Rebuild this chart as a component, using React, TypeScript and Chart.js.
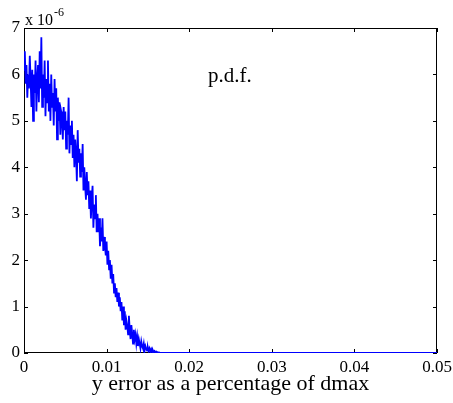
import React, { useEffect, useRef } from "react";
import { Chart, registerables } from "chart.js";

Chart.register(...registerables);

// x positions (y error as fraction of dmax), step 0.0001 from 0 to 0.0170
const xStep = 0.0001;
// p.d.f. values in units of 1e-6
const pdfValues: number[] = [
  6.1, 6.5, 5.8, 6.2, 5.5, 6.0, 5.7, 6.4, 5.9, 5.3,
  6.1, 5.0, 6.0, 5.6, 6.3, 5.2, 5.9, 6.2, 5.4, 6.5,
  5.7, 6.8, 5.3, 6.0, 5.5, 6.3, 5.1, 5.9, 5.4, 6.3,
  5.2, 5.8, 5.0, 6.0, 5.3, 5.6, 4.9, 5.9, 5.2, 5.7,
  4.6, 5.5, 5.0, 5.4, 4.7, 5.2, 5.1, 4.6, 5.3, 4.8,
  5.2, 4.4, 5.0, 4.7, 5.5, 4.3, 4.9, 4.5, 5.0, 4.2,
  4.7, 4.0, 4.6, 4.3, 3.7, 4.8, 4.1, 4.4, 3.8, 4.3,
  3.9, 4.5, 3.5, 4.0, 3.6, 3.3, 3.9, 3.4, 3.7, 3.1,
  3.5, 2.9, 3.3, 3.6, 2.7, 3.2, 2.9, 3.4, 2.6, 3.0,
  2.6, 2.9, 2.3, 2.7, 2.4, 2.9, 2.2, 2.5, 2.3, 2.1,
  2.4, 1.9, 2.2, 1.8, 2.0, 1.6, 1.9, 1.5, 1.7, 1.3,
  1.5, 1.2, 1.4, 1.1, 1.3, 1.0, 1.2, 0.9, 1.1, 0.7,
  1.0, 0.6, 0.9, 0.5, 0.7, 0.6, 0.4, 0.8, 0.5, 0.3,
  0.6, 0.4, 0.2, 0.5, 0.3, 0.4, 0.2, 0.35, 0.15, 0.3,
  0.2, 0.1, 0.25, 0.15, 0.1, 0.2, 0.05, 0.15, 0.1, 0.05,
  0.12, 0.05, 0.1, 0.03, 0.08, 0.02, 0.06, 0.02, 0.04, 0.01,
  0.03, 0.01, 0.02, 0, 0.01, 0, 0, 0, 0, 0,
  0,
];
const tailX = [0.05];
const tailY = [0];

const xTicks = [0, 0.01, 0.02, 0.03, 0.04, 0.05];
const yTicks = [0, 1, 2, 3, 4, 5, 6, 7];
const xLabel = "y error as a percentage of dmax";
const plotText = "p.d.f.";
const yExponent = "-6";

const FONT = "'Liberation Serif', 'Times New Roman', serif";

export default function App() {
  const ref = useRef<HTMLCanvasElement | null>(null);
  useEffect(() => {
    if (!ref.current) return;
    const pts = pdfValues.map((v, i) => ({ x: +(i * xStep).toFixed(4), y: v }));
    tailX.forEach((x, i) => pts.push({ x, y: tailY[i] }));

    const frame = {
      id: "frame",
      beforeDatasetsDraw(chart: any) {
        const { ctx, chartArea: a, scales } = chart;
        ctx.save();
        ctx.strokeStyle = "#000";
        ctx.lineWidth = 1;
        ctx.strokeRect(a.left + 0.5, a.top + 0.5, a.right - a.left - 1, a.bottom - a.top - 1);
        const tl = 4;
        ctx.beginPath();
        xTicks.forEach((t) => {
          const px = Math.round(scales.x.getPixelForValue(t)) + 0.5;
          ctx.moveTo(px, a.bottom);
          ctx.lineTo(px, a.bottom - tl);
          ctx.moveTo(px, a.top);
          ctx.lineTo(px, a.top + tl);
        });
        yTicks.forEach((t) => {
          const py = Math.round(scales.y.getPixelForValue(t)) + 0.5;
          ctx.moveTo(a.left, py);
          ctx.lineTo(a.left + tl, py);
          ctx.moveTo(a.right, py);
          ctx.lineTo(a.right - tl, py);
        });
        ctx.stroke();
        ctx.restore();
      },
      afterDraw(chart: any) {
        const { ctx, chartArea: a } = chart;
        ctx.save();
        ctx.fillStyle = "#000";
        ctx.textBaseline = "alphabetic";
        ctx.textAlign = "center";
        ctx.font = `22px ${FONT}`;
        ctx.fillText(xLabel, (a.left + a.right) / 2, 390);
        ctx.textAlign = "left";
        ctx.font = `21px ${FONT}`;
        ctx.fillText(plotText, 208, 82);
        ctx.font = `16px ${FONT}`;
        ctx.fillText("x 10", 25, 25);
        const w = ctx.measureText("x 10").width;
        ctx.font = `12px ${FONT}`;
        ctx.fillText(yExponent, 25 + w + 1, 16);
        ctx.restore();
      },
    };

    const chart = new Chart(ref.current, {
      type: "line",
      data: {
        datasets: [
          {
            data: pts,
            borderColor: "#0000ff",
            borderWidth: 1.8,
            pointRadius: 0,
            tension: 0,
            fill: false,
          },
        ],
      },
      options: {
        responsive: false,
        animation: false,
        parsing: true,
        layout: { padding: { left: 0, top: 28, right: 16, bottom: 0 } },
        plugins: { legend: { display: false }, tooltip: { enabled: false } },
        scales: {
          x: {
            type: "linear",
            min: 0,
            max: 0.05,
            afterFit: (s: any) => {
              s.height = 50;
              s.paddingLeft = 0;
              s.paddingRight = 0;
            },
            afterBuildTicks: (s: any) => {
              s.ticks = xTicks.map((v) => ({ value: v }));
            },
            grid: { display: false, drawTicks: false, tickLength: 0 },
            border: { display: false },
            ticks: {
              padding: 4,
              color: "#000",
              font: { family: FONT, size: 17 },
              maxRotation: 0,
              callback: (v: any) => (v === 0 ? "0" : Number(v).toFixed(2)),
            },
          },
          y: {
            type: "linear",
            min: 0,
            max: 7,
            afterFit: (s: any) => {
              s.width = 24;
              s.paddingTop = 0;
              s.paddingBottom = 0;
            },
            afterBuildTicks: (s: any) => {
              s.ticks = yTicks.map((v) => ({ value: v }));
            },
            grid: { display: false, drawTicks: false, tickLength: 0 },
            border: { display: false },
            ticks: {
              padding: 4,
              color: "#000",
              font: { family: FONT, size: 17 },
              callback: (v: any) => String(v),
            },
          },
        },
      },
      plugins: [frame],
    });
    return () => chart.destroy();
  }, []);
  return (
    <div style={{ position: "fixed", left: 0, top: 0, width: 453, height: 403, background: "#fff" }}>
      <canvas ref={ref} width={453} height={403} style={{ width: 453, height: 403 }} />
    </div>
  );
}
